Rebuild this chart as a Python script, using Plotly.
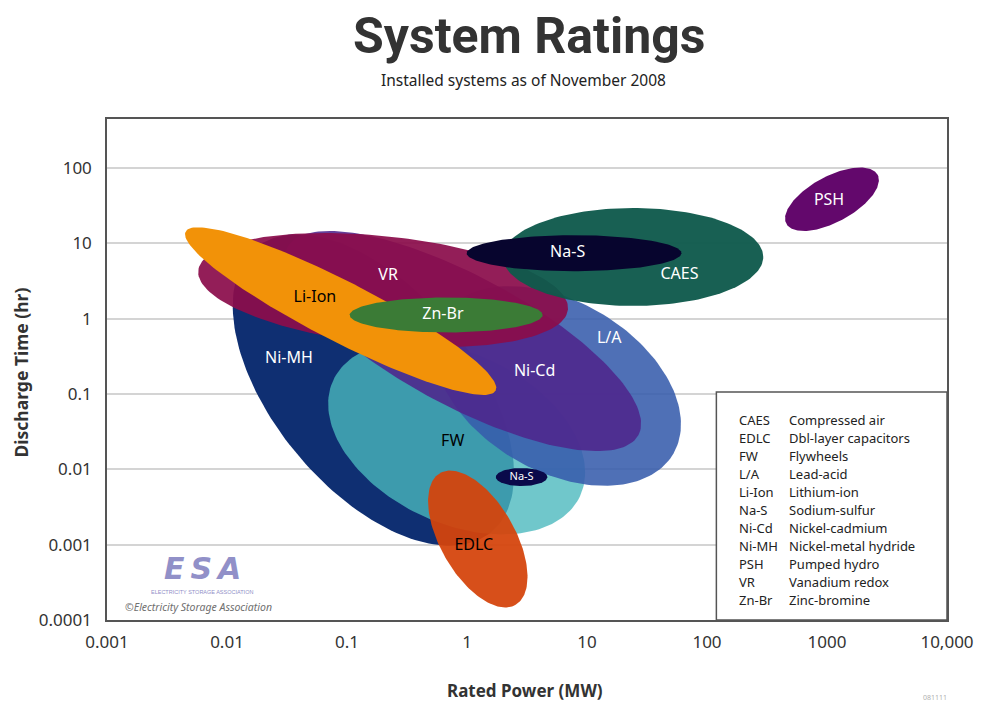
import numpy as np
import plotly.graph_objects as go

# ---------------- data ----------------
# Ellipse systems (drawn bottom -> top)
systems      = ["Ni-MH", "FW", "L/A", "Ni-Cd", "VR", "Li-Ion", "Zn-Br", "CAES", "Na-S", "EDLC", "Na-S (small)", "PSH"]
center_mw    = [0.166, 0.82, 5.66, 0.925, 0.20, 0.0885, 0.67, 24.2, 7.8, 1.23, 2.85, 1100]
center_hr    = [0.113, 0.026, 0.128, 0.505, 2.4, 1.26, 1.12, 6.6, 7.4, 0.00119, 0.0079, 38.5]
major_dec    = [1.533, 1.135, 1.118, 1.657, 1.549, 1.450, 0.804, 1.085, 0.895, 0.630, 0.215, 0.431]
minor_dec    = [0.829, 0.704, 0.704, 0.539, 0.447, 0.249, 0.145, 0.406, 0.149, 0.311, 0.075, 0.190]
tilt_deg     = [50, 25, 30, 28, 6, 27, 0, 0, 0, 60, 0, -28]
fill_colors  = ["#0f2f72", "rgba(73,184,189,0.79)", "rgba(55,92,172,0.88)", "rgba(78,38,140,0.88)",
                "rgba(139,13,75,0.93)", "#f29208", "#3b7b36", "rgba(15,90,76,0.96)", "#07052e",
                "rgba(212,68,12,0.94)", "#0a0a4a", "#63086c"]

# Labels on the ellipses
label_text   = ["PSH", "CAES", "Na-S", "VR", "Li-Ion", "Zn-Br", "L/A", "Ni-MH", "Ni-Cd", "FW", "Na-S", "EDLC"]
label_mw     = [1040, 59, 6.9, 0.22, 0.054, 0.63, 15.3, 0.0328, 3.66, 0.76, 2.85, 1.14]
label_hr     = [36.5, 3.8, 7.4, 3.7, 1.88, 1.12, 0.54, 0.29, 0.196, 0.023, 0.0079, 0.00096]
label_color  = ["white", "white", "white", "white", "black", "white", "white", "white", "white", "black", "white", "black"]
label_size   = [16, 16, 16, 16, 16, 16, 16, 16, 16, 16, 11, 16]

# Axis ticks
x_tickvals = [0.001, 0.01, 0.1, 1, 10, 100, 1000, 10000]
x_ticktext = ["0.001", "0.01", "0.1", "1", "10", "100", "1000", "10,000"]
y_tickvals = [0.0001, 0.001, 0.01, 0.1, 1, 10, 100]
y_ticktext = ["0.0001", "0.001", "0.01", "0.1", "1", "10", "100"]

# Key
key_abbr = ["CAES", "EDLC", "FW", "L/A", "Li-Ion", "Na-S", "Ni-Cd", "Ni-MH", "PSH", "VR", "Zn-Br"]
key_desc = ["Compressed air", "Dbl-layer capacitors", "Flywheels", "Lead-acid", "Lithium-ion",
            "Sodium-sulfur", "Nickel-cadmium", "Nickel-metal hydride", "Pumped hydro",
            "Vanadium redox", "Zinc-bromine"]

# ---------------- layout geometry ----------------
OFF = 8                      # page body margin
W, H = 986 - OFF, 705 - OFF
M_L, M_R, M_T, M_B = 107 - OFF, 34, 119 - OFF, 85
X_RANGE = [-3, 4]
Y_RANGE = [-4, 2.651]
plot_w = W - M_L - M_R
plot_h = H - M_T - M_B
px_per_dec_x = plot_w / (X_RANGE[1] - X_RANGE[0])
px_per_dec_y = plot_h / (Y_RANGE[1] - Y_RANGE[0])
aspect = px_per_dec_x / px_per_dec_y


def fx(px):
    return (px - OFF - M_L) / plot_w


def fy(py):
    return (OFF + M_T + plot_h - py) / plot_h


FONT = "Noto Sans, Open Sans, sans-serif"
TXT = "#333333"

fig = go.Figure()

t = np.linspace(0, 2 * np.pi, 181)
for name, cx, cy, a, b, tilt, col in zip(systems, center_mw, center_hr, major_dec,
                                          minor_dec, tilt_deg, fill_colors):
    phi = -np.deg2rad(tilt)
    du = a * np.cos(t) * np.cos(phi) - b * np.sin(t) * np.sin(phi)
    dv = a * np.cos(t) * np.sin(phi) + b * np.sin(t) * np.cos(phi)
    xs = 10 ** (np.log10(cx) + du)
    ys = 10 ** (np.log10(cy) + dv * aspect)
    fig.add_trace(go.Scatter(x=xs, y=ys, mode="lines", fill="toself", fillcolor=col,
                             line=dict(width=0, color=col), name=name,
                             hoverinfo="skip", showlegend=False))

fig.add_trace(go.Scatter(x=label_mw, y=label_hr, mode="text", text=label_text,
                         textfont=dict(family=FONT, size=label_size, color=label_color),
                         hoverinfo="skip", showlegend=False))

# Key box
fig.add_shape(type="rect", xref="paper", yref="paper", x0=fx(720), x1=1, y0=0, y1=fy(392),
              fillcolor="white", line=dict(color="#555555", width=1.5), layer="above")

annotations = []
for i, (ab, de) in enumerate(zip(key_abbr, key_desc)):
    yy = fy(420 + 18 * i)
    annotations.append(dict(xref="paper", yref="paper", x=fx(741), y=yy,
                            text=ab, showarrow=False, xanchor="left", yanchor="middle",
                            font=dict(family=FONT, size=13, color="#222222")))
    annotations.append(dict(xref="paper", yref="paper", x=fx(791), y=yy,
                            text=de, showarrow=False, xanchor="left", yanchor="middle",
                            font=dict(family=FONT, size=13, color="#222222")))


def txt(px, py, text, size, color, family=FONT, angle=0):
    annotations.append(dict(xref="paper", yref="paper", x=fx(px), y=fy(py), text=text,
                            showarrow=False, xanchor="center", yanchor="middle", textangle=angle,
                            font=dict(family=family, size=size, color=color)))


txt(532, 36, "<b>System Ratings</b>", 50, TXT, family="Roboto, sans-serif")
txt(526, 80, "Installed systems as of November 2008", 15.5, "#222222")
txt(527, 690, "<b>Rated Power (MW)</b>", 17, TXT)
txt(20, 373, "<b>Discharge Time (hr)</b>", 17.5, TXT, angle=-90)
txt(203, 568, "<b><i>E\u2009S\u2009A</i></b>", 30, "#9190c8", family="DejaVu Sans, sans-serif")
txt(203, 592, "ELECTRICITY STORAGE ASSOCIATION", 5.5, "#9190c8", family="Liberation Sans, sans-serif")
txt(199, 607, "<i>©Electricity Storage Association</i>", 10.5, "#707070")
txt(940, 697, "081111", 7, "#b0b0b0")

fig.update_layout(
    width=W, height=H,
    margin=dict(l=M_L, r=M_R, t=M_T, b=M_B),
    paper_bgcolor="white", plot_bgcolor="white",
    annotations=annotations,
    xaxis=dict(type="log", range=X_RANGE, tickvals=x_tickvals, ticktext=x_ticktext,
               showgrid=False, zeroline=False, showline=True, mirror=True,
               linecolor="#555555", linewidth=1.5, ticks="", ticklabelstandoff=6,
               tickfont=dict(family=FONT, size=17, color=TXT)),
    yaxis=dict(type="log", range=Y_RANGE, tickvals=y_tickvals, ticktext=y_ticktext,
               showgrid=True, gridcolor="#d4d4d4", gridwidth=2, zeroline=False,
               showline=True, mirror=True, linecolor="#555555", linewidth=1.5, ticks="",
               ticklabelstandoff=10,
               tickfont=dict(family=FONT, size=17, color=TXT)),
)

fig.write_html("out.html")
